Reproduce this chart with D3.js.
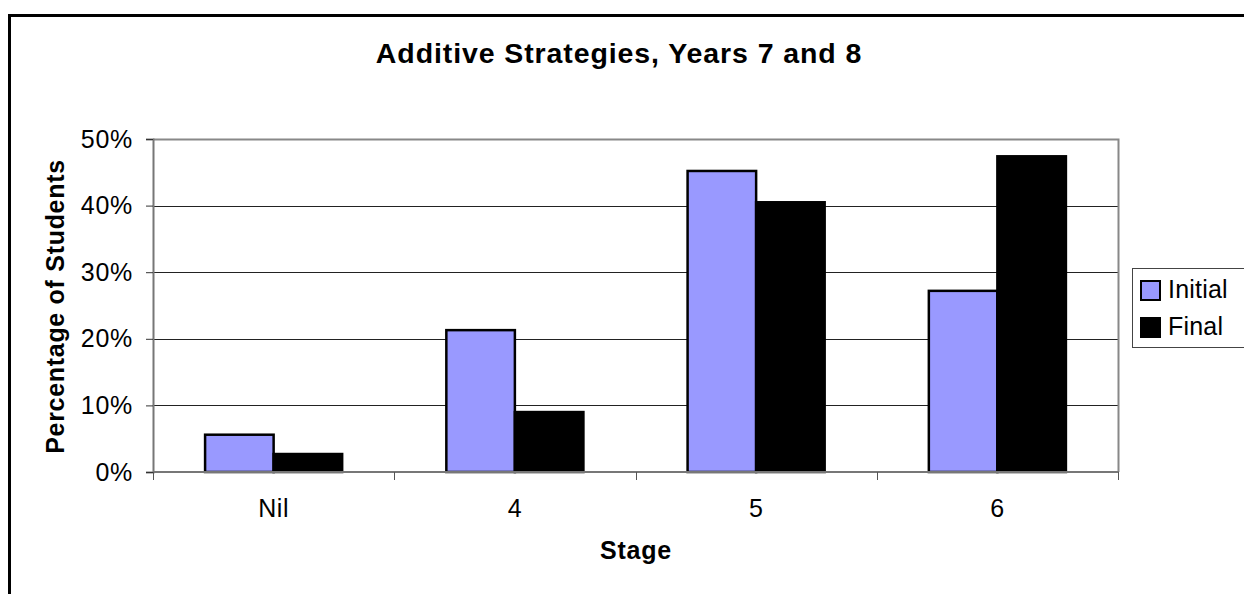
<!DOCTYPE html>
<html>
<head>
<meta charset="utf-8">
<script src="https://cdn.jsdelivr.net/npm/d3@7/dist/d3.min.js"></script>
<style>
  html, body { margin: 0; padding: 0; background: #fff; }
  svg { display: block; font-family: "Liberation Sans", Arial, sans-serif; }
</style>
</head>
<body>
<svg id="chart" width="1244" height="594"></svg>
<script>
// Chart data
const stages = ["Nil", "4", "5", "6"];
const seriesNames = ["Initial", "Final"];
const initialValues = [0.056, 0.213, 0.452, 0.272];
const finalValues = [0.027, 0.090, 0.405, 0.474];
const yTicks = [0, 0.1, 0.2, 0.3, 0.4, 0.5];
const seriesColors = ["#9999FF", "#000000"];

const rows = stages.map((s, i) => ({ stage: s, values: [initialValues[i], finalValues[i]] }));

const svg = d3.select("#chart");
const W = 1244, H = 594;
const plot = { left: 153, top: 139, right: 1118, bottom: 472 };

// Outer chart frame (runs off the right and bottom edges)
svg.append("rect")
  .attr("x", 9.5).attr("y", 15.5)
  .attr("width", W + 20).attr("height", H + 20)
  .attr("fill", "#fff").attr("stroke", "#000").attr("stroke-width", 3);

// Scales
const x = d3.scaleBand().domain(stages).range([plot.left, plot.right]).paddingInner(0).paddingOuter(0);
const y = d3.scaleLinear().domain([0, 0.5]).range([plot.bottom, plot.top]);
const inner = d3.scaleBand().domain(seriesNames)
  .range([0, x.bandwidth()]).paddingInner(0).paddingOuter(0.76);

// Gridlines
svg.append("g")
  .selectAll("line")
  .data(yTicks.filter(t => t > 0 && t < 0.5))
  .join("line")
  .attr("x1", plot.left).attr("x2", plot.right)
  .attr("y1", d => Math.round(y(d)) + 0.5).attr("y2", d => Math.round(y(d)) + 0.5)
  .attr("stroke", "#222").attr("stroke-width", 1);

// Plot area frame (top and right)
svg.append("path")
  .attr("d", `M${plot.left},${plot.top + 0.5}H${plot.right + 0.5}V${plot.bottom}`)
  .attr("fill", "none").attr("stroke", "#888").attr("stroke-width", 2);

// Bars
const groups = svg.append("g").selectAll("g")
  .data(rows).join("g")
  .attr("transform", d => `translate(${x(d.stage)},0)`);

groups.selectAll("rect")
  .data(d => d.values.map((v, i) => ({ name: seriesNames[i], value: v, color: seriesColors[i] })))
  .join("rect")
  .attr("x", d => inner(d.name))
  .attr("y", d => y(d.value))
  .attr("width", inner.bandwidth())
  .attr("height", d => y(0) - y(d.value))
  .attr("fill", d => d.color)
  .attr("stroke", "#000").attr("stroke-width", 2.5);

// Y axis
const yAxis = d3.axisLeft(y).tickValues(yTicks).tickFormat(d3.format(".0%")).tickSize(7).tickPadding(13);
const gy = svg.append("g").attr("transform", `translate(${plot.left},0)`).call(yAxis);
gy.select(".domain").attr("stroke", "#777").attr("stroke-width", 2);
gy.selectAll(".tick line").attr("stroke", "#333");
gy.selectAll(".tick text").attr("font-size", 25).attr("fill", "#000")
  .attr("letter-spacing", 0.7)
  .attr("font-family", "Liberation Sans, Arial, sans-serif");

// X axis: ticks sit on category boundaries
const gx = svg.append("g").attr("transform", `translate(0,${plot.bottom})`);
gx.append("line").attr("x1", plot.left).attr("x2", plot.right + 1)
  .attr("y1", 0).attr("y2", 0).attr("stroke", "#777").attr("stroke-width", 2);
const boundaries = stages.map(s => x(s)).concat([x(stages[stages.length - 1]) + x.bandwidth()]);
gx.selectAll(".btick").data(boundaries).join("line")
  .attr("class", "btick")
  .attr("x1", d => Math.round(d) + 0.5).attr("x2", d => Math.round(d) + 0.5)
  .attr("y1", 0).attr("y2", 8).attr("stroke", "#555");
gx.selectAll(".lbl").data(stages).join("text")
  .attr("class", "lbl")
  .attr("x", d => x(d) + x.bandwidth() / 2)
  .attr("y", 45)
  .attr("text-anchor", "middle")
  .attr("font-size", 25)
  .attr("letter-spacing", 0.5)
  .text(d => d);

// Titles
svg.append("text")
  .attr("x", 619).attr("y", 63)
  .attr("text-anchor", "middle")
  .attr("font-size", 28.5).attr("font-weight", "bold")
  .attr("letter-spacing", 0.9)
  .text("Additive Strategies, Years 7 and 8");

svg.append("text")
  .attr("x", 636).attr("y", 559)
  .attr("text-anchor", "middle")
  .attr("font-size", 25).attr("font-weight", "bold")
  .attr("letter-spacing", 0.8)
  .text("Stage");

svg.append("text")
  .attr("transform", `translate(64,${(plot.top + plot.bottom) / 2 + 1}) rotate(-90)`)
  .attr("text-anchor", "middle")
  .attr("font-size", 25).attr("font-weight", "bold")
  .attr("letter-spacing", 0.7)
  .text("Percentage of Students");

// Legend
const legend = svg.append("g").attr("transform", "translate(1132,268)");
legend.append("rect")
  .attr("x", 0.5).attr("y", 0.5).attr("width", 140).attr("height", 79)
  .attr("fill", "#fff").attr("stroke", "#444").attr("stroke-width", 1);
const items = legend.selectAll(".item").data(seriesNames).join("g")
  .attr("class", "item")
  .attr("transform", (d, i) => `translate(9,${13 + i * 37})`);
items.append("rect")
  .attr("width", 19).attr("height", 19)
  .attr("fill", (d, i) => seriesColors[i])
  .attr("stroke", "#000").attr("stroke-width", 2);
items.append("text")
  .attr("x", 27).attr("y", 17)
  .attr("font-size", 25)
  .attr("letter-spacing", 0.2)
  .text(d => d);
</script>
</body>
</html>
